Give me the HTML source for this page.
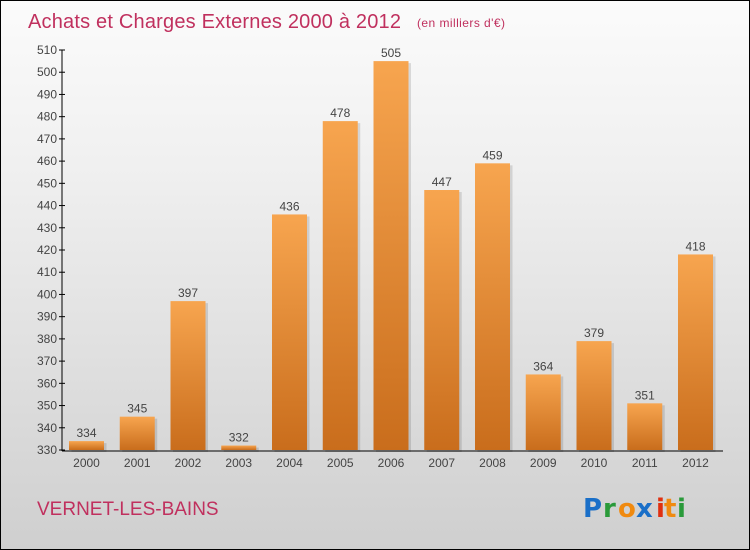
<!DOCTYPE html>
<html><head><meta charset="utf-8"><style>
body{margin:0}
#c{position:relative;width:748px;height:548px;border:1px solid #000;background:linear-gradient(#fbfbfb,#f0f0f0 30%,#cfcfcf);font-family:"Liberation Sans",sans-serif;overflow:hidden}
</style></head><body>
<div id="c">
<svg id="s" width="748" height="548" style="position:absolute;left:0;top:0">
<defs><linearGradient id="g" x1="0" y1="0" x2="0" y2="1"><stop offset="0" stop-color="#f7a54f"/><stop offset="1" stop-color="#c96d1c"/></linearGradient></defs>
<text x="27" y="27" font-size="20" fill="#c0305e" textLength="373">Achats et Charges Externes 2000 à 2012</text>
<text x="416" y="26" font-size="12" fill="#c0305e" textLength="88">(en milliers d'€)</text>
<text x="36" y="514" font-size="19" fill="#c0305e">VERNET-LES-BAINS</text>
<g font-size="26" font-weight="bold" font-family="DejaVu Sans, sans-serif">
<text x="582" y="516" fill="#1a6fc8">P</text><text x="602" y="516" fill="#2a9a3a">r</text><text x="617" y="516" fill="#f08a10">o</text><text x="635" y="516" fill="#1a6fc8">x</text><text x="655" y="516" fill="#e03010">i</text><text x="663" y="516" fill="#f08a10">t</text><text x="676" y="516" fill="#2a9a3a">i</text>
</g>
</svg>
</div>
<script>
const years=["2000","2001","2002","2003","2004","2005","2006","2007","2008","2009","2010","2011","2012"];
const values=[334,345,397,332,436,478,505,447,459,364,379,351,418];
const yTicks=[330,340,350,360,370,380,390,400,410,420,430,440,450,460,470,480,490,500,510];
const NS="http://www.w3.org/2000/svg";
const s=document.getElementById('s');
const y=v=>449-(v-330)*(400/180);
const x=i=>85.5+i*50.75;
function mk(t,a,txt){const e=document.createElementNS(NS,t);for(const k in a)e.setAttribute(k,a[k]);if(txt!==undefined)e.textContent=txt;s.appendChild(e);return e;}
const ax=mk('line',{x1:61,y1:49,x2:61,y2:450,stroke:'#000'});


const bx=mk('line',{x1:61,y1:450,x2:722,y2:450,stroke:'#000'});


yTicks.forEach(v=>{
 const t=mk('line',{x1:58,y1:y(v),x2:64,y2:y(v),stroke:'#000'});
 
 
 const l=mk('text',{x:56,y:y(v)+4,'font-size':12,'text-anchor':'end',fill:'#444'},v);
 
 
});
years.forEach((yr,i)=>{
 const v=values[i];
 const sh=mk('rect',{x:x(i)-15,y:y(v)+2,width:35,height:449-y(v),fill:'#000',opacity:0.12});
 
 
 const b=mk('rect',{x:x(i)-17.5,y:y(v),width:35,height:449-y(v),fill:'url(#g)'});
 
 
 const vl=mk('text',{x:x(i),y:y(v)-4,'font-size':12,'text-anchor':'middle',fill:'#444'},v);
 
 
 const xl=mk('text',{x:x(i),y:466,'font-size':12,'text-anchor':'middle',fill:'#444'},yr);
 
 
});
</script>
</body></html>
